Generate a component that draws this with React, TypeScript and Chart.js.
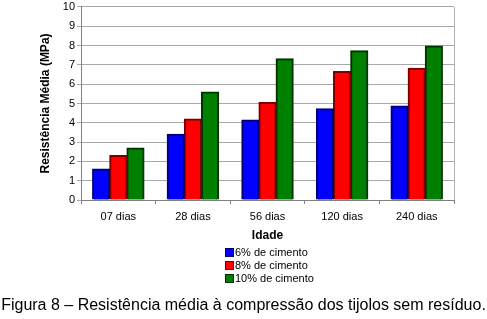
import React, { useEffect, useRef } from "react";
import { Chart, registerables } from "chart.js";

Chart.register(...registerables);

const categories = ["07 dias", "28 dias", "56 dias", "120 dias", "240 dias"];
const cement6 = [1.6, 3.4, 4.15, 4.73, 4.87];
const cement8 = [2.3, 4.2, 5.05, 6.65, 6.83];
const cement10 = [2.7, 5.6, 7.32, 7.73, 7.98];
const seriesNames = ["6% de cimento", "8% de cimento", "10% de cimento"];
const seriesFill = ["#0000ff", "#ff0000", "#008000"];
const seriesBorder = ["#00006e", "#7a0000", "#003300"];
const yTitle = "Resistência Média (MPa)";
const xTitle = "Idade";
const caption = "Figura 8 – Resistência média à compressão dos tijolos sem resíduo.";

const FONT = "'Liberation Sans', Arial, sans-serif";

const rightBorder = {
  id: "rightBorder",
  afterDraw(chart: any) {
    const { ctx, chartArea } = chart;
    ctx.save();
    ctx.strokeStyle = "#b4b4b4";
    ctx.lineWidth = 1;
    ctx.beginPath();
    const x = Math.round(chartArea.right) + 0.5;
    ctx.moveTo(x, chartArea.top);
    ctx.lineTo(x, chartArea.bottom);
    ctx.stroke();
    ctx.restore();
  },
};

export default function App() {
  const canvasRef = useRef<HTMLCanvasElement | null>(null);

  useEffect(() => {
    document.body.style.margin = "0";
    const canvas = canvasRef.current;
    if (!canvas) return;
    const values = [cement6, cement8, cement10];
    const chart = new Chart(canvas, {
      type: "bar",
      data: {
        labels: categories,
        datasets: values.map((v, i) => ({
          label: seriesNames[i],
          data: v,
          backgroundColor: seriesFill[i],
          borderColor: seriesBorder[i],
          borderWidth: 2,
          inflateAmount: 0.5,
          categoryPercentage: 0.69,
          barPercentage: 1,
        })),
      },
      options: {
        responsive: false,
        animation: false,
        layout: { padding: { left: 38, right: 33, top: 0, bottom: 74 } },
        plugins: {
          legend: { display: false },
          tooltip: { enabled: false },
        },
        scales: {
          x: {
            afterFit: (s: any) => {
              s.height = 45;
            },
            grid: {
              drawOnChartArea: false,
              drawTicks: true,
              tickLength: 4,
              color: "#808080",
              offset: true,
            },
            border: { color: "#808080" },
            ticks: {
              color: "#000",
              padding: 6,
              font: { family: FONT, size: 11 },
            },
            title: {
              display: true,
              text: xTitle,
              color: "#000",
              font: { family: FONT, size: 12, weight: "bold" },
              padding: { top: 0, bottom: 2 },
            },
          },
          y: {
            min: 0,
            max: 10,
            afterFit: (s: any) => {
              s.width = 43;
            },
            ticks: {
              stepSize: 1,
              color: "#000",
              padding: 2,
              font: { family: FONT, size: 11, lineHeight: 0.9 },
            },
            grid: { color: "#a8a8a8", tickLength: 4 },
            border: { color: "#808080" },
            title: {
              display: true,
              text: yTitle,
              color: "#000",
              font: { family: FONT, size: 12, weight: "bold" },
              padding: 0,
            },
          },
        },
      },
      plugins: [rightBorder],
    });
    return () => chart.destroy();
  }, []);

  return (
    <div style={{ position: "relative", width: 487, height: 319, background: "#fff", overflow: "hidden" }}>
      <canvas ref={canvasRef} width={487} height={319} style={{ position: "absolute", left: 0, top: 0 }} />
      <div style={{ position: "absolute", left: 225, top: 246, fontFamily: FONT, fontSize: 11, lineHeight: "13px", color: "#000" }}>
        {seriesNames.map((n, i) => (
          <div key={n} style={{ display: "flex", alignItems: "center", height: 13 }}>
            <span
              style={{
                display: "inline-block",
                width: 7,
                height: 7,
                background: seriesFill[i],
                border: `1px solid ${seriesBorder[i]}`,
                marginRight: 1,
              }}
            />
            <span>{n}</span>
          </div>
        ))}
      </div>
      <div
        style={{
          position: "absolute",
          left: 0,
          width: 487,
          top: 295,
          textAlign: "center",
          fontFamily: FONT,
          fontSize: 16,
          lineHeight: "19px",
          whiteSpace: "nowrap",
          color: "#000",
        }}
      >
        {caption}
      </div>
    </div>
  );
}
